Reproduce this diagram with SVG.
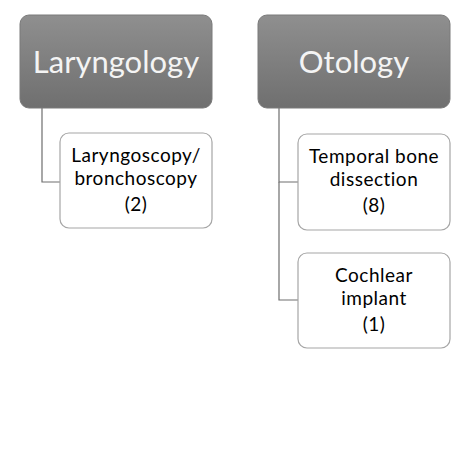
<svg xmlns="http://www.w3.org/2000/svg" width="474" height="474" viewBox="0 0 474 474">
<defs>
<linearGradient id="hg" x1="0" y1="0" x2="0" y2="1">
<stop offset="0" stop-color="#8f8f8f"/>
<stop offset="1" stop-color="#6f6f6f"/>
</linearGradient>
<style>
.head rect{fill:url(#hg);stroke:#7a7a7a;stroke-width:1}
.head text{font-family:Lato,"Open Sans",sans-serif;font-size:31px;fill:#f4f4f4;text-anchor:middle}
.leaf rect{fill:#ffffff;stroke:#a6a6a6;stroke-width:1.2}
.leaf text{font-family:Lato,"Open Sans",sans-serif;font-size:19px;letter-spacing:0.5px;fill:#000;text-anchor:middle}
.conn path{fill:none;stroke:#6e6e6e;stroke-width:1.2}
</style>
</defs>
<rect width="474" height="474" fill="#ffffff"/>
<g class="conn" id="connectors">
<path d="M42 108V182H60"/>
<path d="M279 108V182H298"/>
<path d="M279 182V300H298"/>
</g>
<g class="head" id="laryngology">
<rect x="20" y="15" width="192" height="93" rx="9"/>
<text x="116" y="73">Laryngology</text>
</g>
<g class="head" id="otology">
<rect x="258" y="15" width="192" height="93" rx="9"/>
<text x="354" y="73">Otology</text>
</g>
<g class="leaf" id="laryngoscopy">
<rect x="60" y="133" width="152" height="95" rx="9"/>
<text x="136" y="162">Laryngoscopy/</text>
<text x="136" y="185">bronchoscopy</text>
<text x="136" y="211">(2)</text>
</g>
<g class="leaf" id="temporal">
<rect x="298" y="134" width="152" height="96" rx="9"/>
<text x="374" y="163">Temporal bone</text>
<text x="374" y="186">dissection</text>
<text x="374" y="212">(8)</text>
</g>
<g class="leaf" id="cochlear">
<rect x="298" y="253" width="152" height="95" rx="9"/>
<text x="374" y="282">Cochlear</text>
<text x="374" y="305">implant</text>
<text x="374" y="331">(1)</text>
</g>
</svg>
